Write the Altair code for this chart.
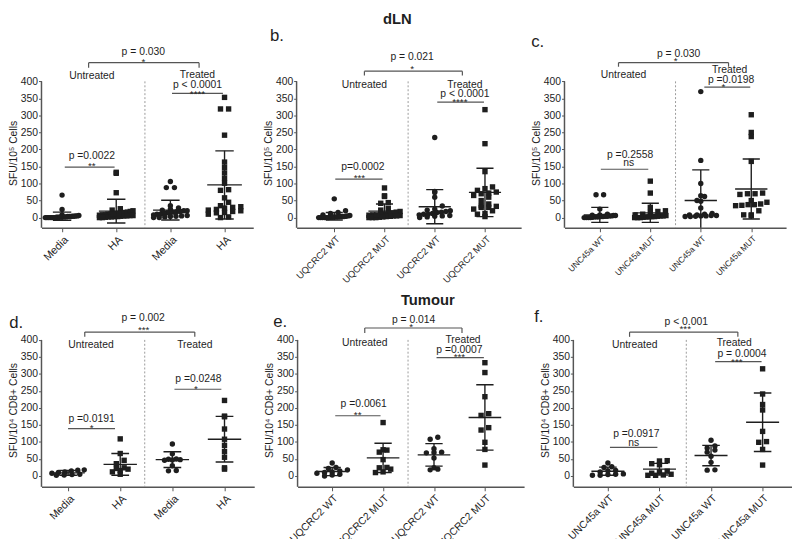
import altair as alt
import pandas as pd

FONT = "Liberation Sans"
AFONT = "Liberation Sans Narrow, Liberation Sans"
INK = "#1e1e1e"
LINE = "#555555"

# ---------------- data (SFU values) ----------------
cats_ha = ["Media", "HA", "Media", "HA"]
cats_uq = ["UQCRC2 WT", "UQCRC2 MUT", "UQCRC2 WT", "UQCRC2 MUT"]
cats_unc = ["UNC45a WT", "UNC45a MUT", "UNC45a WT", "UNC45a MUT"]

# panel a (dLN, HA)
a_media_untr = [66, 24, 8, 6, 5, 5, 4, 3, 3, 2, 2, 2, 1, 1, 1, 0, 0, 0, 0, 0, 0, 0, 3, 4, 2]
a_ha_untr = [133, 130, 73, 26, 22, 20, 18, 16, 15, 14, 12, 10, 10, 8, 8, 7, 6, 5, 5, 4, 3, 3, 2, 2, 1, 0, 0, 10, 12, 6]
a_media_tr = [106, 88, 88, 35, 28, 25, 22, 20, 20, 18, 18, 16, 15, 14, 12, 10, 10, 8, 6, 5, 4, 3, 2, 0, 0]
a_ha_tr = [353, 319, 319, 242, 163, 147, 131, 115, 101, 82, 80, 58, 45, 35, 32, 30, 28, 24, 22, 20, 18, 15, 14, 10, 2, 0]
a_mean = [4, 19, 22, 96]
a_sd = [12, 35, 29, 100]

# panel b (dLN, UQCRC2)
b_wt_untr = [55, 20, 15, 12, 8, 6, 5, 4, 3, 3, 2, 2, 1, 1, 0, 0, 0, 0, 0, 0, 2, 3]
b_mut_untr = [87, 64, 62, 44, 42, 27, 22, 18, 16, 14, 12, 10, 9, 8, 7, 6, 5, 4, 3, 2, 1, 0, 0, 0, 5, 8]
b_wt_tr = [235, 77, 74, 60, 34, 25, 22, 20, 18, 16, 15, 12, 10, 10, 8, 6, 5, 4, 2, 0]
b_mut_tr = [317, 217, 135, 90, 85, 80, 75, 72, 70, 65, 60, 50, 40, 35, 33, 30, 30, 25, 20, 12, 10, 3]
b_mean = [4, 19, 32, 74]
b_sd = [11, 21, 50, 71]

# panel c (dLN, UNC45a)
c_wt_untr = [67, 67, 25, 10, 8, 7, 6, 5, 5, 4, 3, 3, 2, 2, 1, 0, 0, 0, 0, 2, 4, 6]
c_mut_untr = [107, 72, 30, 20, 18, 15, 10, 8, 6, 5, 5, 4, 3, 2, 1, 0, 0, 0, 2, 3]
c_wt_tr = [370, 168, 100, 64, 62, 50, 48, 28, 12, 10, 8, 8, 6, 6, 5, 5, 4, 3, 3]
c_mut_tr = [302, 250, 238, 165, 72, 70, 70, 68, 50, 45, 40, 38, 38, 36, 35, 20, 8, 8, 5]
c_mean = [8, 14, 50, 84]
c_sd = [22, 28, 90, 88]

# panel d (Tumour, HA)
d_media_untr = [18, 17, 15, 12, 10, 8, 5, 4, 3, 2]
d_ha_untr = [109, 66, 46, 36, 24, 22, 20, 16, 12, 5]
d_media_tr = [94, 65, 50, 49, 48, 47, 46, 30, 16, 15]
d_ha_tr = [222, 176, 174, 138, 108, 90, 72, 55, 24, 20]
d_mean = [9, 34, 48, 108]
d_sd = [7, 32, 23, 67]

# panel e (Tumour, UQCRC2)
e_wt_untr = [38, 25, 22, 18, 15, 12, 10, 8, 5, 3, 0]
e_mut_untr = [157, 77, 76, 70, 48, 25, 24, 20, 12, 10]
e_wt_tr = [114, 108, 80, 70, 69, 68, 53, 24, 20, 18]
e_mut_tr = [333, 304, 233, 183, 178, 142, 135, 99, 78, 32]
e_mean = [13, 53, 62, 172]
e_sd = [12, 43, 33, 96]

# panel f (Tumour, UNC45a)
f_wt_untr = [38, 27, 25, 16, 15, 12, 6, 5, 4, 2, 2]
f_mut_untr = [45, 44, 36, 33, 14, 12, 8, 5, 3, 2, 2]
f_wt_tr = [105, 88, 82, 76, 70, 58, 40, 18, 17]
f_mut_tr = [315, 241, 210, 194, 131, 101, 99, 78, 32]
f_mean = [14, 20, 60, 158]
f_sd = [12, 17, 30, 86]

# annotations: (text, x, y, fontsize)
FS = 10.5
a_texts = [("p = 0.030", 2.5, 487, FS), ("*", 2.5, 458, 10), ("Untreated", 1.55, 417, FS),
           ("Treated", 3.5, 419, FS), ("p < 0.0001", 3.5, 388, FS), ("****", 3.5, 364, 10),
           ("p =0.0022", 1.55, 180, FS), ("**", 1.55, 151, 10)]
a_lines = [(1.49, 3.53, 455, 455), (1.49, 1.49, 455, 440), (3.53, 3.53, 455, 440),
           (3.03, 3.97, 365, 365), (1.05, 1.97, 148, 148)]

b_texts = [("p = 0.021", 2.55, 472, FS), ("*", 2.55, 437, 10), ("Untreated", 1.6, 388, FS),
           ("Treated", 3.6, 390, FS), ("p < 0.0001", 3.6, 362, FS), ("****", 3.5, 339, 10),
           ("p=0.0002", 1.57, 148, FS), ("***", 1.5, 115, 10)]
b_lines = [(1.6, 3.55, 430, 430), (1.6, 1.6, 430, 417), (3.55, 3.55, 430, 417),
           (3.05, 3.98, 339, 339), (1.02, 1.96, 113, 113)]

c_texts = [("p = 0.030", 2.56, 481, FS), ("*", 2.5, 460, 10), ("Untreated", 1.47, 420, FS),
           ("Treated", 3.57, 434, FS), ("p =0.0198", 3.6, 403, FS), ("*", 3.45, 384, 10),
           ("p =0.2558", 1.6, 183, FS), ("ns", 1.57, 159, FS)]
c_lines = [(1.37, 3.55, 455, 455), (1.37, 1.37, 455, 443), (3.55, 3.55, 455, 443),
           (3.07, 3.98, 383, 383), (1.02, 1.96, 142, 142)]

d_texts = [("p = 0.002", 2.44, 464, FS), ("***", 2.45, 429, 10), ("Untreated", 1.44, 386, FS),
           ("Treated", 3.43, 386, FS), ("p =0.0248", 3.5, 284, FS), ("*", 3.45, 255, 10),
           ("p =0.0191", 1.45, 168, FS), ("*", 1.45, 142, 10)]
d_lines = [(1.32, 3.43, 423, 423), (1.32, 1.32, 423, 409), (3.43, 3.43, 423, 409),
           (3.04, 3.94, 255, 255), (1.0, 1.9, 139, 139)]

e_texts = [("p = 0.014", 2.6, 458, FS), ("*", 2.55, 437, 10), ("Untreated", 1.64, 391, FS),
           ("Treated", 3.57, 399, FS), ("p =0.0007", 3.5, 371, FS), ("***", 3.5, 351, 10),
           ("p =0.0061", 1.62, 211, FS), ("**", 1.5, 179, 10)]
e_lines = [(1.64, 3.55, 435, 435), (1.64, 1.64, 435, 420), (3.55, 3.55, 435, 420),
           (3.05, 3.98, 348, 348), (1.06, 1.95, 177, 177)]

f_texts = [("p < 0.001", 2.52, 452, FS), ("***", 2.5, 432, 10), ("Untreated", 1.52, 386, FS),
           ("Treated", 3.45, 390, FS), ("p = 0.0004", 3.6, 359, FS), ("***", 3.5, 336, 10),
           ("p =0.0917", 1.55, 122, FS), ("ns", 1.5, 96, FS)]
f_lines = [(1.42, 3.52, 423, 423), (1.42, 1.42, 423, 409), (3.52, 3.52, 423, 409),
           (3.08, 3.98, 336, 336), (1.04, 1.96, 84, 84)]


def panel(vals, mean, sd, cats, texts, lines, letter, xdom, ydom, divider,
          ytitle, title_y, label_font, width, height):
    XS = alt.Scale(domain=xdom, nice=False, zero=False)
    YS = alt.Scale(domain=ydom, nice=False, zero=False)

    pts = pd.DataFrame([{"g": i + 1, "v": v, "shape": "circle" if i % 2 == 0 else "square"}
                        for i, vs in enumerate(vals) for v in vs])
    eb = pd.DataFrame({"g": [1, 2, 3, 4], "m": mean, "s": sd})
    tx = pd.DataFrame(texts, columns=["t", "x", "y", "s"])
    ln = pd.DataFrame(lines, columns=["x", "x2", "y", "y2"])
    frame = pd.DataFrame({"x": [xdom[0], divider], "y": [400, 400], "y2": [ydom[0], ydom[0]],
                          "k": ["axis", "div"]})

    js_cats = "[" + ",".join("'" + c + "'" for c in cats) + "]"
    xaxis = alt.Axis(values=[1, 2, 3, 4], labelExpr=js_cats + "[datum.value-1]",
                     labelAngle=-45, labelFontSize=label_font, labelFont=FONT,
                     labelColor=INK, domainColor=LINE, domainWidth=1.5,
                     tickColor=LINE, tickSize=4, labelPadding=2, labelOverlap=False,
                     title=None, grid=False)
    yaxis = alt.Axis(values=list(range(0, 401, 50)), domain=False, tickColor=LINE,
                     tickSize=3, labelFontSize=10.5, labelFont=FONT, labelColor=INK,
                     title=ytitle, titleFontSize=10.5, titleFont=FONT,
                     titleFontWeight="normal", titleColor=INK, titlePadding=2,
                     titleY=title_y, labelPadding=1, grid=False)

    def X(f):
        return alt.X(f, scale=XS, axis=xaxis)

    def Y(f):
        return alt.Y(f, scale=YS, axis=yaxis)

    points = alt.Chart(pts).transform_calculate(
        b="floor((datum.v + 7) / 14)"
    ).transform_window(
        r="row_number()", groupby=["g", "b"], sort=[alt.SortField("v")]
    ).transform_joinaggregate(
        n="count()", groupby=["g", "b"]
    ).transform_calculate(
        xj="datum.g + (datum.n > 1 ? ((datum.r - 1) / (datum.n - 1) - 0.5) * min((datum.n - 1) * 0.15, 0.62) : 0)"
    ).mark_point(filled=True, size=30, color=INK, opacity=1).encode(
        x=X("xj:Q"), y=Y("v:Q"),
        shape=alt.Shape("shape:N", scale=None),
    )

    ebase = alt.Chart(eb).transform_calculate(
        lo="datum.m - datum.s", hi="datum.m + datum.s",
        x1="datum.g - 0.32", x2="datum.g + 0.32",
        c1="datum.g - 0.17", c2="datum.g + 0.17",
    )
    rule_kw = dict(color=INK, strokeWidth=1.4, clip=True)
    mean_r = ebase.mark_rule(**rule_kw).encode(x=X("x1:Q"), x2="x2:Q", y=Y("m:Q"))
    vert_r = ebase.mark_rule(**rule_kw).encode(x=X("g:Q"), y=Y("lo:Q"), y2="hi:Q")
    cap_hi = ebase.mark_rule(**rule_kw).encode(x=X("c1:Q"), x2="c2:Q", y=Y("hi:Q"))
    cap_lo = ebase.mark_rule(**rule_kw).encode(x=X("c1:Q"), x2="c2:Q", y=Y("lo:Q"))

    yline = alt.Chart(frame[frame.k == "axis"]).mark_rule(color=LINE, strokeWidth=1.5).encode(
        x=X("x:Q"), y=Y("y:Q"), y2="y2:Q")
    divl = alt.Chart(frame[frame.k == "div"]).mark_rule(
        color="#9a9a9a", strokeWidth=1, strokeDash=[2, 2]).encode(
        x=X("x:Q"), y=Y("y:Q"), y2="y2:Q")

    ann_l = alt.Chart(ln).mark_rule(color=LINE, strokeWidth=1.2).encode(
        x=X("x:Q"), x2="x2:Q", y=Y("y:Q"), y2="y2:Q")
    ann_t = alt.Chart(tx).mark_text(font=AFONT, color=INK, baseline="middle", align="center").encode(
        x=X("x:Q"), y=Y("y:Q"), text="t:N", size=alt.Size("s:Q", scale=None))

    layers = [divl, yline, ann_l, ann_t, mean_r, vert_r, cap_hi, cap_lo, points]
    if letter is not None:
        lt = pd.DataFrame([letter], columns=["t", "x", "y"])
        layers.append(alt.Chart(lt).mark_text(font=FONT, color=INK, fontSize=17,
                                              align="left", baseline="middle").encode(
            x=X("x:Q"), y=Y("y:Q"), text="t:N"))
    return alt.layer(*layers).properties(width=width, height=height)


R1 = [-30, 560]
R2 = [-32, 495]
H1 = 204
H2 = 182
T1 = "SFU/10⁵ Cells"
T2 = "SFU/10⁴ CD8+ Cells"

pa = panel([a_media_untr, a_ha_untr, a_media_tr, a_ha_tr], a_mean, a_sd, cats_ha,
           a_texts, a_lines, None, [0.62, 4.53], R1, 2.53, T1, 128, 11, 215, H1)
pb = panel([b_wt_untr, b_mut_untr, b_wt_tr, b_mut_tr], b_mean, b_sd, cats_uq,
           b_texts, b_lines, ("b.", -0.28, 533), [0.25, 4.72], R1, 2.47, T1, 128, 9.5, 228, H1)
pc = panel([c_wt_untr, c_mut_untr, c_wt_tr, c_mut_tr], c_mean, c_sd, cats_unc,
           c_texts, c_lines, ("c.", -0.36, 516), [0.30, 4.69], R1, 2.5, T1, 128, 8.5, 225, H1)
pd_ = panel([d_media_untr, d_ha_untr, d_media_tr, d_ha_tr], d_mean, d_sd, cats_ha,
            d_texts, d_lines, ("d.", -0.13, 449), [0.49, 4.57], R2, 2.47, T2, 104, 11, 216, H2)
pe = panel([e_wt_untr, e_mut_untr, e_wt_tr, e_mut_tr], e_mean, e_sd, cats_uq,
           e_texts, e_lines, ("e.", -0.16, 452), [0.32, 4.77], R2, 2.49, T2, 104, 10.5, 230, H2)
pf = panel([f_wt_untr, f_mut_untr, f_wt_tr, f_mut_tr], f_mean, f_sd, cats_unc,
           f_texts, f_lines, ("f.", -0.43, 467), [0.33, 4.57], R2, 2.52, T2, 104, 10.5, 222, H2)

row1 = alt.hconcat(pa, pb, pc, spacing=10,
                   title=alt.Title("dLN", fontSize=15, fontWeight="bold", font=FONT,
                                   anchor="middle", color=INK, offset=0))
row2 = alt.hconcat(pd_, pe, pf, spacing=10,
                   title=alt.Title("Tumour", fontSize=15, fontWeight="bold", font=FONT,
                                   anchor="middle", color=INK, dx=28, offset=0))

chart = alt.vconcat(row1, row2, spacing=8).properties(
    padding={"left": 0, "top": 0, "right": 0, "bottom": 0}
).configure_view(stroke=None).configure_axis(grid=False)

chart.save("out.html", embed_options={"renderer": "svg", "actions": False})
